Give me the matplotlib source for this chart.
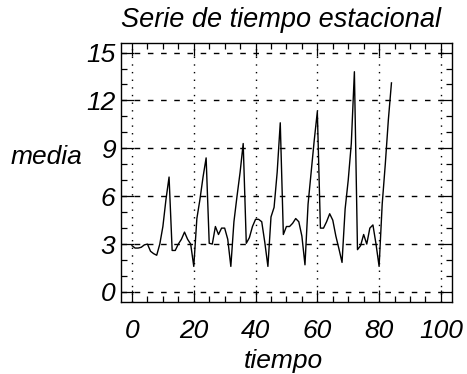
import numpy as np
import matplotlib
matplotlib.use("Agg")
import matplotlib.pyplot as plt
from matplotlib.ticker import MultipleLocator

# Monthly mean values of the seasonal series (one value per time step)
media = [
    2.9, 2.75, 2.75, 2.8, 2.95, 3.0, 2.55, 2.4, 2.3, 3.0, 4.1, 5.8,
    7.2, 2.6, 2.6, 3.0, 3.3, 3.75, 3.3, 3.0, 1.6, 4.6, 5.8, 7.2,
    8.4, 3.05, 3.0, 4.1, 3.6, 4.0, 4.0, 3.3, 1.6, 4.4, 6.0, 7.5,
    9.3, 3.05, 3.4, 4.1, 4.55, 4.55, 4.4, 3.1, 1.6, 4.7, 5.3, 7.5,
    10.6, 3.6, 4.1, 4.1, 4.3, 4.6, 4.4, 3.5, 1.7, 5.5, 7.5, 9.5,
    11.3, 4.0, 4.0, 4.4, 4.9, 4.5, 3.5, 2.7, 1.85, 5.2, 7.0, 9.3,
    13.8, 2.65, 2.9, 3.6, 3.0, 4.0, 4.2, 3.0, 1.6, 5.5, 8.0, 10.8,
    13.1,
]
tiempo = np.arange(len(media))

x_ticks = [0, 20, 40, 60, 80, 100]
y_ticks = [0, 3, 6, 9, 12, 15]

title = "Serie de tiempo estacional"
x_label = "tiempo"
y_label = "media"

W, H = 467, 374
plt.rcParams["font.family"] = ["Liberation Sans", "DejaVu Sans"]
plt.rcParams["font.style"] = "italic"
fs = 19

fig = plt.figure(figsize=(W / 100, H / 100), dpi=100)
ax = fig.add_axes([121 / W, 1 - 302 / H, (452 - 121) / W, (302 - 43) / H])

ax.plot(tiempo, media, color="black", linewidth=1.0)

ax.set_xlim(-3.56, 103.6)
ax.set_ylim(-0.63, 15.6)
ax.set_xticks(x_ticks)
ax.set_yticks(y_ticks)
ax.xaxis.set_minor_locator(MultipleLocator(5))
ax.yaxis.set_minor_locator(MultipleLocator(1))

ax.tick_params(which="both", direction="in", top=True, right=True,
               colors="black", width=0.9)
ax.tick_params(which="major", length=9)
ax.tick_params(which="minor", length=4.5)
ax.tick_params(axis="x", which="major", pad=12, labelsize=fs)
ax.tick_params(axis="y", which="major", pad=4, labelsize=fs)
for lab in ax.get_xticklabels() + ax.get_yticklabels():
    lab.set_fontstyle("italic")

# Dotted verticals and dashed horizontals at the major ticks
for xv in x_ticks:
    ax.axvline(xv, color="black", linewidth=1.0, linestyle=(0, (1, 4.5)), zorder=0)
for yv in y_ticks:
    ax.axhline(yv, color="black", linewidth=1.0, linestyle=(0, (4, 5.5)), zorder=0)

for sp in ax.spines.values():
    sp.set_linewidth(1.0)
    sp.set_color("black")

fig.text(281 / W, 1 - 20 / H, title, ha="center", va="center",
         fontsize=fs + 0.5, fontstyle="italic")
fig.text(283 / W, 1 - 361 / H, x_label, ha="center", va="center",
         fontsize=fs, fontstyle="italic")
fig.text(46 / W, 1 - 157 / H, y_label, ha="center", va="center",
         fontsize=fs, fontstyle="italic")

fig.savefig("out.png", dpi=100, facecolor="white")
